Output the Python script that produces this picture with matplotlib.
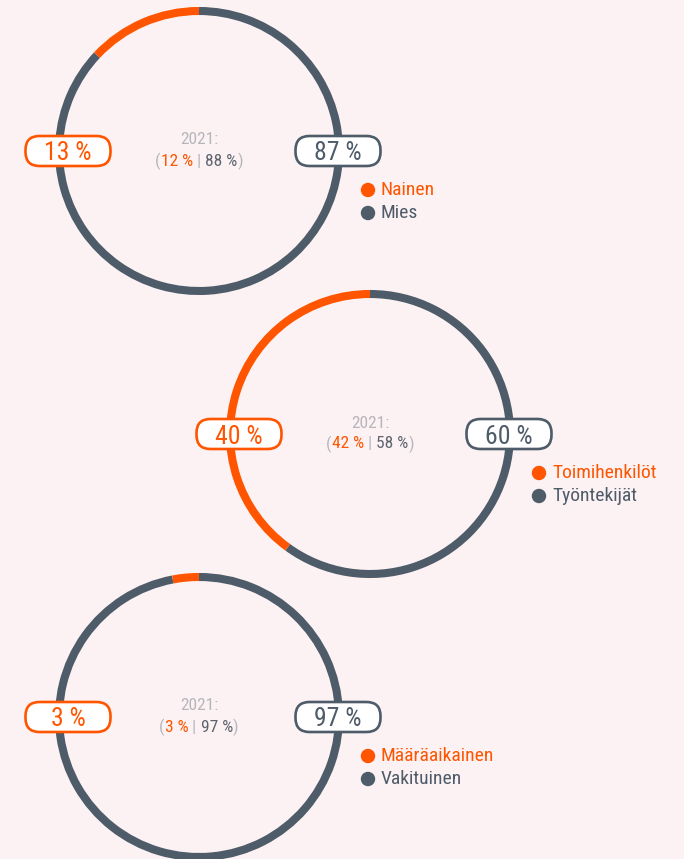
import matplotlib.pyplot as plt
from matplotlib.patches import Arc, FancyBboxPatch, Circle

# data
shares_now = [13, 40, 3]          # orange share, %
shares_2021 = [12, 42, 3]
labels_a = ['Nainen', 'Toimihenkilöt', 'Määräaikainen']
labels_b = ['Mies', 'Työntekijät', 'Vakituinen']
year = '2021:'

# layout (pixels from top-left)
centers = [(199, 151), (370, 434), (199, 717)]
R = 140

ORANGE = '#ff5500'
GREY = '#4e5b69'
MID = '#5d646e'
LIGHT = '#b6b6ba'
BG = '#fcf2f3'
FONT = ['Roboto Condensed', 'DejaVu Sans Condensed', 'Liberation Sans Narrow',
        'Roboto', 'DejaVu Sans']
plt.rcParams['font.stretch'] = 'condensed'

W, H = 684, 859
fig = plt.figure(figsize=(W / 100, H / 100), dpi=100, facecolor=BG)
ax = fig.add_axes([0, 0, 1, 1])
ax.set_xlim(0, W)
ax.set_ylim(0, H)
ax.set_aspect('equal')
ax.axis('off')
ax.set_facecolor(BG)


def pill(x, y, txt, col):
    w, h = 85, 30
    ax.add_patch(FancyBboxPatch((x - w / 2, y - h / 2), w, h,
                                boxstyle='round,pad=0,rounding_size=14',
                                fc='white', ec=col, lw=1.9, zorder=5))
    ax.text(x, y, txt, color=col, ha='center', va='center_baseline',
            fontsize=18.5, family=FONT, zorder=6)


renderer = fig.canvas.get_renderer()


def multi_text(cx, y, parts, size):
    texts = []
    for s, c in parts:
        t = ax.text(0, y, s, color=c, fontsize=size, family=FONT,
                    ha='left', va='center')
        texts.append(t)
    widths = []
    inv = ax.transData.inverted()
    for t in texts:
        bb = t.get_window_extent(renderer)
        p0 = inv.transform((bb.x0, bb.y0))
        p1 = inv.transform((bb.x1, bb.y1))
        widths.append(p1[0] - p0[0])
    x = cx - sum(widths) / 2
    for t, w in zip(texts, widths):
        t.set_x(x)
        x += w


for i, (px, py) in enumerate(centers):
    cx, cy = px, H - py
    a = shares_now[i] / 100 * 360
    ax.add_patch(Arc((cx, cy), 2 * R, 2 * R, theta1=90 + a, theta2=450,
                     color=GREY, lw=5.8, zorder=2))
    ax.add_patch(Arc((cx, cy), 2 * R, 2 * R, theta1=90, theta2=90 + a,
                     color=ORANGE, lw=5.8, zorder=3))
    pill(cx - R + 9, cy, f'{shares_now[i]} %', ORANGE)
    pill(cx + R - 1, cy, f'{100 - shares_now[i]} %', GREY)

    ax.text(cx, cy + 11, year, color=LIGHT, fontsize=12.5, family=FONT,
            ha='center', va='center')
    multi_text(cx, cy - 10, [('(', LIGHT), (f'{shares_2021[i]} %', ORANGE),
                             (' | ', LIGHT),
                             (f'{100 - shares_2021[i]} %', MID), (')', LIGHT)], 12.5)

    lx, ly = cx + R + 29, cy - 39
    ax.add_patch(Circle((lx, ly), 6.5, color=ORANGE, zorder=4))
    ax.add_patch(Circle((lx, ly - 23), 6.5, color=GREY, zorder=4))
    ax.text(lx + 13, ly, labels_a[i], color=ORANGE, fontsize=14, family=FONT,
            ha='left', va='center')
    ax.text(lx + 13, ly - 23, labels_b[i], color=GREY, fontsize=14, family=FONT,
            ha='left', va='center')

fig.savefig('out.png', dpi=100, facecolor=BG)
